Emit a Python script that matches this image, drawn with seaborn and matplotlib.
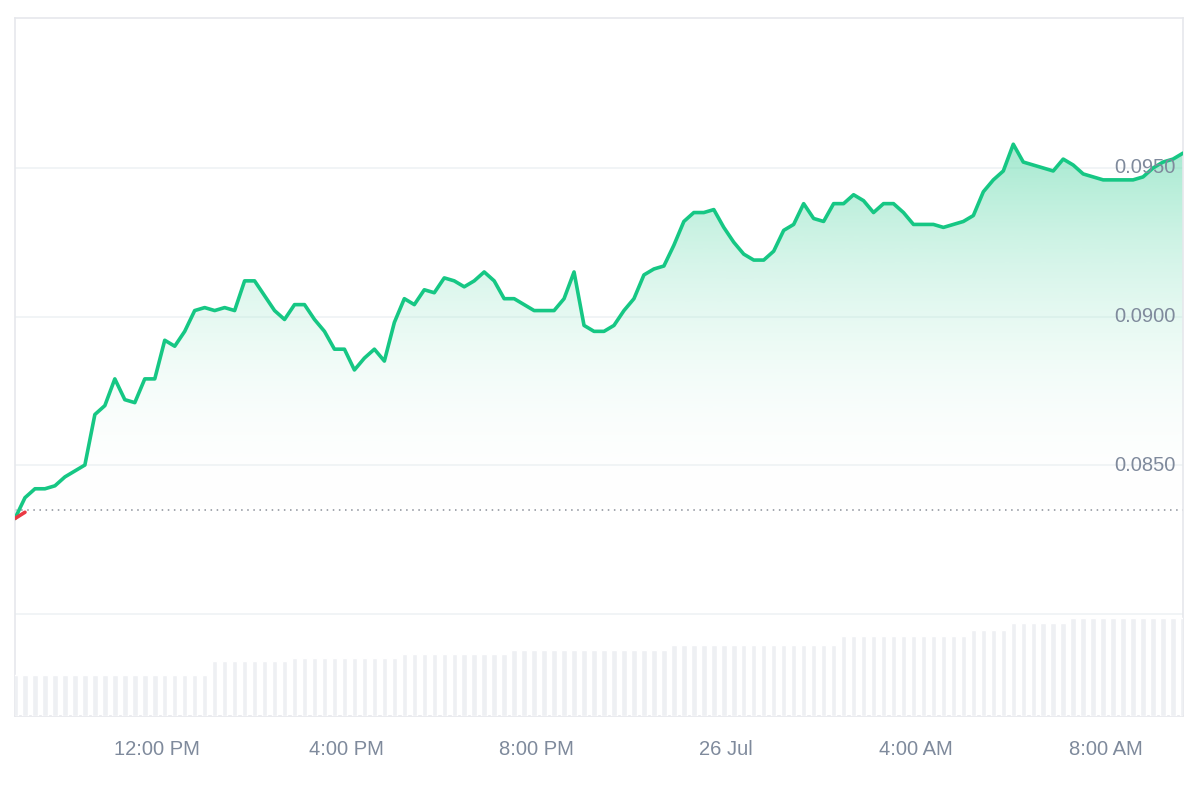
import matplotlib.pyplot as plt
import matplotlib.dates as mdates
import numpy as np
import pandas as pd
import seaborn as sns
from matplotlib.patches import Polygon

START = "2024-07-25 09:00"
END = "2024-07-26 09:38"

PRICES = [
    0.0832, 0.0839, 0.0842, 0.0842, 0.0843, 0.0846, 0.0848, 0.0850, 0.0867, 0.0870,
    0.0879, 0.0872, 0.0871, 0.0879, 0.0879, 0.0892, 0.0890, 0.0895, 0.0902, 0.0903,
    0.0902, 0.0903, 0.0902, 0.0912, 0.0912, 0.0907, 0.0902, 0.0899, 0.0904, 0.0904,
    0.0899, 0.0895, 0.0889, 0.0889, 0.0882, 0.0886, 0.0889, 0.0885, 0.0898, 0.0906,
    0.0904, 0.0909, 0.0908, 0.0913, 0.0912, 0.0910, 0.0912, 0.0915, 0.0912, 0.0906,
    0.0906, 0.0904, 0.0902, 0.0902, 0.0902, 0.0906, 0.0915, 0.0897, 0.0895, 0.0895,
    0.0897, 0.0902, 0.0906, 0.0914, 0.0916, 0.0917, 0.0924, 0.0932, 0.0935, 0.0935,
    0.0936, 0.0930, 0.0925, 0.0921, 0.0919, 0.0919, 0.0922, 0.0929, 0.0931, 0.0938,
    0.0933, 0.0932, 0.0938, 0.0938, 0.0941, 0.0939, 0.0935, 0.0938, 0.0938, 0.0935,
    0.0931, 0.0931, 0.0931, 0.0930, 0.0931, 0.0932, 0.0934, 0.0942, 0.0946, 0.0949,
    0.0958, 0.0952, 0.0951, 0.0950, 0.0949, 0.0953, 0.0951, 0.0948, 0.0947, 0.0946,
    0.0946, 0.0946, 0.0946, 0.0947, 0.0950, 0.0952, 0.0953, 0.0955,
]

VOLUMES = [
    40, 40, 40, 40, 40, 40, 40, 40, 40, 40, 40, 40, 40, 40, 40, 40, 40, 40, 40, 40,
    54, 54, 54, 54, 54, 54, 54, 54, 57, 57, 57, 57, 57, 57, 57, 57, 57, 57, 57,
    61, 61, 61, 61, 61, 61, 61, 61, 61, 61, 61, 65, 65, 65, 65, 65, 65, 65, 65,
    65, 65, 65, 65, 65, 65, 65, 65, 70, 70, 70, 70, 70, 70, 70, 70, 70, 70, 70,
    70, 70, 70, 70, 70, 70, 78, 78, 78, 78, 78, 78, 78, 78, 78, 78, 78, 78, 78,
    84, 84, 84, 84, 91, 91, 91, 91, 91, 91, 96, 96, 96, 96, 96, 96, 96, 96, 96, 96, 96, 96,
]

OPEN_PRICE = 0.08348
Y_TICKS = [0.0850, 0.0900, 0.0950]
GRID_LEVELS = [0.0800, 0.0850, 0.0900, 0.0950]
X_TICK_TIMES = ["2024-07-25 12:00", "2024-07-25 16:00", "2024-07-25 20:00",
                "2024-07-26 00:00", "2024-07-26 04:00", "2024-07-26 08:00"]
X_TICK_LABELS = ["12:00 PM", "4:00 PM", "8:00 PM", "26 Jul", "4:00 AM", "8:00 AM"]

GREEN = "#16c784"
TEXT = "#7f8a9c"


def main() -> None:
    sns.set_theme(style="white")
    plt.rcParams["font.family"] = ["Liberation Sans", "DejaVu Sans"]

    times = pd.date_range(START, END, periods=len(PRICES))
    df = pd.DataFrame({"time": times, "price": PRICES})
    vol_times = pd.date_range(START, END, periods=len(VOLUMES))

    fig = plt.figure(figsize=(12, 8), dpi=100)
    ax = fig.add_axes([15 / 1200, 84 / 800, 1168 / 1200, 698 / 800])
    ax_vol = fig.add_axes([15 / 1200, 84 / 800, 1168 / 1200, 104 / 800], sharex=ax)
    ax_vol.patch.set_alpha(0)

    ax.set_ylim(0.07655, 0.10005)
    x0, x1 = mdates.date2num(times[0]), mdates.date2num(times[-1])
    ax.set_xlim(x0, x1)

    for lvl in GRID_LEVELS:
        ax.axhline(lvl, color="#eff2f5", lw=1.2, zorder=0)

    # gradient fill under the line
    grad = np.linspace(0.0, 0.62, 256).reshape(-1, 1)
    cmap = plt.matplotlib.colors.LinearSegmentedColormap.from_list(
        "g", [(1, 1, 1, 0), (0.086, 0.78, 0.52, 1)])
    im = ax.imshow(grad, cmap=cmap, vmin=0, vmax=1, aspect="auto", origin="lower",
                   extent=[x0, x1, OPEN_PRICE, max(PRICES)], zorder=1)
    xs = mdates.date2num(times)
    poly = Polygon(np.column_stack([np.r_[xs, xs[-1], xs[0]],
                                    np.r_[PRICES, OPEN_PRICE, OPEN_PRICE]]),
                   closed=True, transform=ax.transData, facecolor="none", edgecolor="none")
    ax.add_patch(poly)
    im.set_clip_path(poly)

    ax.axhline(OPEN_PRICE, color="#8a8f99", lw=1.1, ls=(0, (1, 3)), zorder=2)
    sns.lineplot(data=df, x="time", y="price", ax=ax, color=GREEN, lw=2.6, zorder=3)
    ax.plot(times[:2], [PRICES[0], PRICES[0] + (PRICES[1] - PRICES[0]) * 0.3],
            color="#ea3943", lw=2.6, zorder=4)

    step = (mdates.date2num(vol_times[1]) - mdates.date2num(vol_times[0]))
    ax_vol.bar(vol_times, VOLUMES, width=step * 0.55, color="#eef0f3", zorder=1)
    ax_vol.set_ylim(0, max(VOLUMES) * 104 / 98)
    ax_vol.axis("off")

    ax.set_yticks([])
    for t in Y_TICKS:
        ax.text(0.9935, t, f"{t:.4f}", transform=ax.get_yaxis_transform(), ha="right",
                va="center", fontsize=14.5, color=TEXT, zorder=5)

    ax.set_xticks(pd.to_datetime(X_TICK_TIMES))
    ax.set_xticklabels(X_TICK_LABELS, fontsize=14.5, color=TEXT)
    ax.tick_params(axis="x", length=0, pad=17)
    ax.set_xlabel("")
    ax.set_ylabel("")
    for sp in ax.spines.values():
        sp.set_color("#e6e8ec")
        sp.set_linewidth(1.2)

    fig.savefig("out.png", dpi=100)
    plt.close(fig)


if __name__ == "__main__":
    main()
